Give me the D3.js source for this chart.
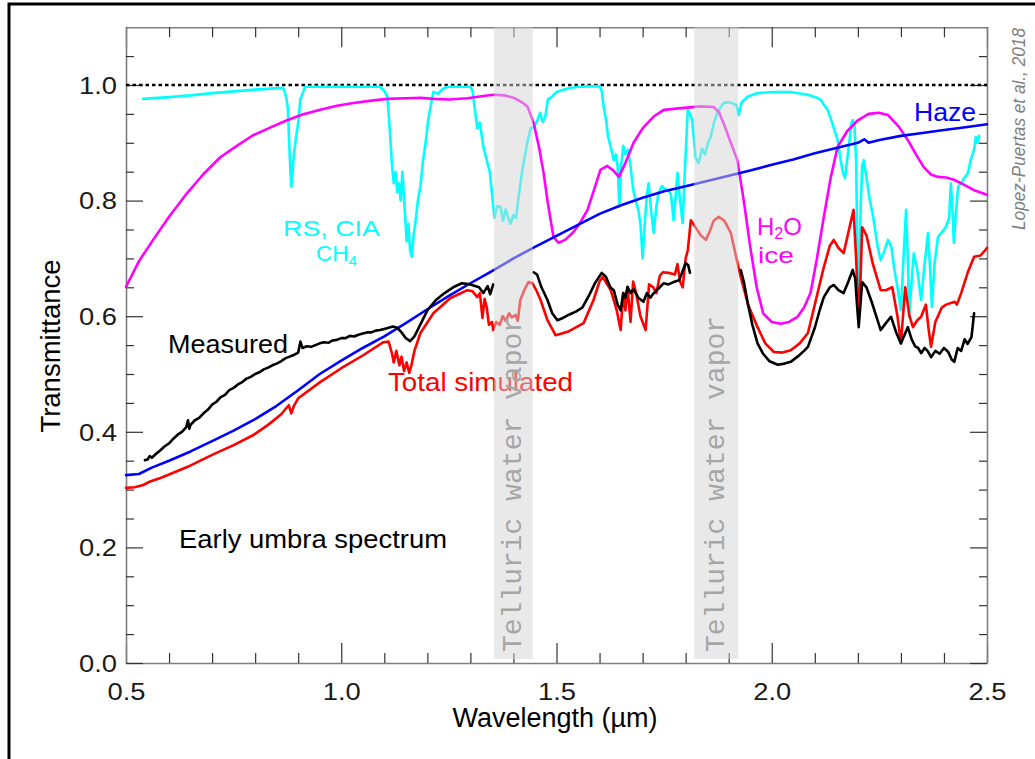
<!DOCTYPE html>
<html><head><meta charset="utf-8">
<script src="https://cdn.jsdelivr.net/npm/d3@7"></script>
<style>
html,body{margin:0;padding:0;background:#fff;}
svg{display:block;}
</style></head><body>
<svg id="chart" width="1035" height="759" font-family="Liberation Sans, Arial, sans-serif"></svg>
<script>
// ---------- data (wavelength in µm, transmittance) ----------
const xTickLabels = [0.5, 1.0, 1.5, 2.0, 2.5];
const yTickLabels = [0.0, 0.2, 0.4, 0.6, 0.8, 1.0];
const referenceLevel = 1.0;
const tellBands = [[1.355, 1.445], [1.82, 1.922]];

const haze = [[0.50,0.325],[0.53,0.327],[0.56,0.338],[0.60,0.350],[0.65,0.366],[0.70,0.384],[0.75,0.402],
[0.80,0.422],[0.85,0.445],[0.90,0.472],[0.95,0.500],[1.00,0.523],[1.05,0.545],[1.10,0.565],[1.15,0.588],
[1.20,0.612],[1.25,0.635],[1.30,0.657],[1.35,0.678],[1.40,0.700],[1.45,0.720],[1.50,0.739],[1.55,0.758],
[1.60,0.777],[1.65,0.792],[1.70,0.805],[1.75,0.816],[1.80,0.825],[1.85,0.834],[1.90,0.843],[1.95,0.852],
[2.00,0.862],[2.05,0.871],[2.10,0.882],[2.15,0.891],[2.20,0.900],[2.215,0.906],[2.225,0.900],[2.25,0.905],
[2.30,0.912],[2.35,0.917],[2.40,0.922],[2.45,0.927],[2.50,0.932]];

const h2oIce = [[0.50,0.651],[0.53,0.695],[0.563,0.732],[0.60,0.772],[0.642,0.813],[0.68,0.846],[0.719,0.875],
[0.76,0.896],[0.795,0.913],[0.84,0.928],[0.874,0.939],[0.91,0.949],[0.951,0.957],[0.99,0.964],[1.028,0.969],
[1.07,0.973],[1.107,0.976],[1.15,0.977],[1.184,0.978],[1.214,0.976],[1.25,0.975],[1.293,0.977],[1.33,0.981],
[1.353,0.983],[1.38,0.982],[1.40,0.978],[1.42,0.970],[1.433,0.962],[1.447,0.934],[1.46,0.890],[1.47,0.848],
[1.48,0.795],[1.493,0.737],[1.505,0.727],[1.52,0.732],[1.54,0.746],[1.556,0.763],[1.572,0.784],[1.59,0.825],
[1.602,0.853],[1.618,0.860],[1.632,0.852],[1.645,0.841],[1.66,0.865],[1.679,0.900],[1.70,0.925],[1.725,0.945],
[1.749,0.957],[1.79,0.960],[1.835,0.963],[1.865,0.962],[1.878,0.952],[1.888,0.934],[1.905,0.900],[1.92,0.870],
[1.935,0.800],[1.95,0.720],[1.965,0.650],[1.98,0.605],[2.00,0.590],[2.021,0.587],[2.04,0.590],[2.06,0.599],
[2.075,0.615],[2.09,0.640],[2.105,0.700],[2.121,0.772],[2.137,0.840],[2.153,0.893],[2.175,0.920],[2.20,0.939],
[2.225,0.950],[2.249,0.952],[2.27,0.948],[2.295,0.928],[2.316,0.905],[2.335,0.880],[2.353,0.858],[2.37,0.845],
[2.386,0.841],[2.405,0.840],[2.423,0.836],[2.445,0.828],[2.47,0.818],[2.50,0.810]];

const rsCiaCh4 = [[0.54,0.976],[0.60,0.979],[0.65,0.982],[0.70,0.986],[0.75,0.989],[0.80,0.992],[0.865,0.995],
[0.870,0.985],[0.873,0.975],[0.876,0.960],[0.879,0.900],[0.882,0.850],[0.884,0.824],[0.887,0.850],[0.890,0.880],
[0.895,0.910],[0.900,0.935],[0.905,0.975],[0.910,0.985],[0.916,0.997],[1.09,0.997],[1.100,0.990],[1.107,0.980],
[1.112,0.930],[1.118,0.860],[1.122,0.830],[1.126,0.850],[1.130,0.815],[1.134,0.830],[1.138,0.800],[1.142,0.850],
[1.147,0.790],[1.152,0.730],[1.156,0.760],[1.160,0.712],[1.164,0.703],[1.168,0.740],[1.172,0.760],[1.178,0.800],
[1.184,0.825],[1.190,0.870],[1.196,0.900],[1.202,0.940],[1.208,0.965],[1.214,0.988],[1.225,0.985],[1.235,0.993],
[1.246,0.997],[1.300,0.997],[1.305,0.990],[1.310,0.960],[1.316,0.925],[1.322,0.935],[1.330,0.893],[1.338,0.870],
[1.345,0.850],[1.350,0.813],[1.356,0.770],[1.362,0.790],[1.370,0.789],[1.376,0.765],[1.382,0.785],[1.388,0.770],
[1.393,0.760],[1.400,0.775],[1.406,0.770],[1.412,0.806],[1.420,0.850],[1.432,0.900],[1.440,0.925],[1.447,0.927],
[1.455,0.938],[1.462,0.952],[1.468,0.936],[1.474,0.945],[1.480,0.975],[1.490,0.980],[1.500,0.988],[1.526,0.994],
[1.550,0.997],[1.600,0.998],[1.605,0.990],[1.610,0.960],[1.615,0.940],[1.620,0.910],[1.626,0.893],[1.633,0.870],
[1.638,0.880],[1.642,0.860],[1.646,0.790],[1.650,0.860],[1.655,0.895],[1.660,0.880],[1.666,0.888],[1.672,0.860],
[1.678,0.820],[1.684,0.800],[1.690,0.784],[1.695,0.760],[1.700,0.700],[1.705,0.760],[1.710,0.810],[1.714,0.830],
[1.720,0.780],[1.726,0.744],[1.732,0.790],[1.737,0.813],[1.745,0.825],[1.752,0.820],[1.760,0.818],[1.766,0.810],
[1.772,0.766],[1.776,0.800],[1.781,0.848],[1.787,0.800],[1.793,0.761],[1.798,0.850],[1.805,0.957],[1.810,0.950],
[1.815,0.940],[1.823,0.875],[1.830,0.865],[1.838,0.890],[1.845,0.880],[1.852,0.900],[1.858,0.910],[1.866,0.935],
[1.874,0.952],[1.880,0.960],[1.888,0.969],[1.900,0.970],[1.910,0.968],[1.918,0.965],[1.923,0.948],[1.930,0.970],
[1.945,0.980],[1.967,0.986],[2.005,0.988],[2.044,0.988],[2.084,0.983],[2.105,0.978],[2.114,0.974],[2.122,0.965],
[2.130,0.957],[2.140,0.935],[2.153,0.905],[2.160,0.870],[2.165,0.850],[2.170,0.839],[2.175,0.870],[2.180,0.900],
[2.185,0.935],[2.188,0.939],[2.192,0.930],[2.196,0.870],[2.199,0.700],[2.201,0.628],[2.204,0.700],[2.207,0.800],
[2.210,0.860],[2.214,0.870],[2.220,0.840],[2.228,0.800],[2.236,0.770],[2.246,0.720],[2.253,0.697],[2.260,0.710],
[2.270,0.732],[2.278,0.720],[2.285,0.680],[2.292,0.650],[2.300,0.611],[2.306,0.700],[2.312,0.784],[2.316,0.700],
[2.319,0.599],[2.325,0.660],[2.330,0.709],[2.338,0.680],[2.347,0.628],[2.355,0.690],[2.363,0.744],[2.368,0.680],
[2.372,0.616],[2.378,0.690],[2.386,0.737],[2.395,0.745],[2.405,0.755],[2.412,0.770],[2.416,0.830],[2.420,0.780],
[2.423,0.727],[2.428,0.780],[2.433,0.824],[2.440,0.830],[2.448,0.840],[2.456,0.848],[2.462,0.870],[2.470,0.888],
[2.474,0.910],[2.478,0.900],[2.482,0.912]];

const totalSimulated = [[0.50,0.303],[0.52,0.304],[0.54,0.308],[0.556,0.314],[0.58,0.320],[0.60,0.326],[0.642,0.339],
[0.70,0.360],[0.75,0.377],[0.795,0.394],[0.83,0.412],[0.86,0.430],[0.878,0.446],[0.884,0.432],[0.890,0.445],
[0.90,0.458],[0.951,0.486],[1.00,0.510],[1.05,0.532],[1.098,0.555],[1.11,0.556],[1.118,0.535],[1.122,0.520],
[1.128,0.540],[1.135,0.515],[1.140,0.530],[1.146,0.505],[1.152,0.520],[1.158,0.502],[1.163,0.515],[1.170,0.540],
[1.184,0.571],[1.214,0.605],[1.253,0.631],[1.293,0.645],[1.305,0.643],[1.316,0.633],[1.322,0.640],[1.328,0.597],
[1.333,0.630],[1.338,0.615],[1.343,0.585],[1.350,0.590],[1.353,0.576],[1.36,0.590],[1.368,0.585],[1.375,0.600],
[1.382,0.592],[1.39,0.605],[1.396,0.598],[1.405,0.602],[1.41,0.592],[1.416,0.628],[1.425,0.645],[1.435,0.659],
[1.444,0.657],[1.453,0.645],[1.463,0.628],[1.479,0.593],[1.498,0.567],[1.526,0.573],[1.563,0.588],[1.586,0.628],
[1.600,0.660],[1.607,0.668],[1.626,0.645],[1.640,0.610],[1.649,0.576],[1.655,0.640],[1.660,0.610],[1.665,0.650],
[1.672,0.590],[1.678,0.660],[1.685,0.640],[1.695,0.600],[1.707,0.576],[1.715,0.655],[1.725,0.650],[1.732,0.640],
[1.740,0.670],[1.747,0.676],[1.760,0.675],[1.775,0.672],[1.781,0.690],[1.787,0.660],[1.793,0.650],[1.800,0.700],
[1.805,0.714],[1.812,0.766],[1.822,0.755],[1.835,0.740],[1.847,0.732],[1.855,0.745],[1.865,0.765],[1.877,0.772],
[1.890,0.765],[1.905,0.744],[1.918,0.700],[1.928,0.668],[1.945,0.620],[1.967,0.581],[1.985,0.553],[2.005,0.538],
[2.025,0.537],[2.044,0.541],[2.065,0.553],[2.084,0.571],[2.10,0.620],[2.121,0.685],[2.135,0.722],[2.144,0.732],
[2.155,0.718],[2.167,0.709],[2.178,0.745],[2.19,0.784],[2.196,0.700],[2.200,0.628],[2.203,0.605],[2.207,0.680],
[2.21,0.754],[2.22,0.740],[2.235,0.690],[2.253,0.645],[2.265,0.645],[2.28,0.650],[2.292,0.600],[2.300,0.553],
[2.31,0.650],[2.32,0.600],[2.328,0.581],[2.338,0.593],[2.347,0.599],[2.358,0.620],[2.364,0.580],[2.37,0.547],
[2.38,0.590],[2.395,0.615],[2.405,0.620],[2.425,0.625],[2.43,0.620],[2.44,0.640],[2.455,0.675],[2.47,0.703],
[2.485,0.705],[2.50,0.718]];

// measured spectrum, three pieces (masked in the telluric bands)
const measuredA = [[0.544,0.351],[0.550,0.352],[0.555,0.358],[0.560,0.355],[0.570,0.362],[0.580,0.368],[0.590,0.375],
[0.600,0.380],[0.610,0.388],[0.620,0.395],[0.630,0.400],[0.640,0.408],[0.644,0.420],[0.647,0.405],[0.650,0.412],
[0.660,0.420],[0.670,0.424],[0.680,0.432],[0.690,0.438],[0.700,0.447],[0.710,0.452],[0.720,0.460],[0.730,0.464],
[0.740,0.472],[0.750,0.476],[0.760,0.482],[0.770,0.486],[0.780,0.492],[0.790,0.495],[0.800,0.500],[0.810,0.503],
[0.820,0.508],[0.830,0.511],[0.840,0.515],[0.850,0.518],[0.860,0.522],[0.870,0.527],[0.880,0.530],[0.890,0.533],
[0.900,0.537],[0.905,0.556],[0.910,0.545],[0.920,0.548],[0.930,0.547],[0.940,0.550],[0.950,0.553],[0.960,0.555],
[0.970,0.554],[0.980,0.558],[0.990,0.559],[1.000,0.562],[1.010,0.562],[1.020,0.566],[1.030,0.565],[1.040,0.568],
[1.050,0.570],[1.060,0.572],[1.070,0.572],[1.080,0.575],[1.090,0.576],[1.100,0.578],[1.110,0.580],[1.120,0.582],
[1.130,0.580],[1.140,0.572],[1.150,0.562],[1.160,0.557],[1.170,0.565],[1.180,0.580],[1.190,0.595],[1.200,0.610],
[1.220,0.628],[1.240,0.640],[1.260,0.650],[1.280,0.657],[1.300,0.655],[1.320,0.650],[1.330,0.640],[1.340,0.652],
[1.346,0.638],[1.353,0.655]];
const measuredB = [[1.447,0.676],[1.455,0.672],[1.465,0.650],[1.479,0.628],[1.490,0.605],[1.502,0.593],[1.515,0.597],
[1.530,0.603],[1.545,0.608],[1.560,0.615],[1.575,0.635],[1.590,0.658],[1.605,0.675],[1.615,0.668],[1.625,0.650],
[1.633,0.645],[1.642,0.620],[1.649,0.610],[1.655,0.640],[1.660,0.632],[1.665,0.651],[1.672,0.640],[1.679,0.647],
[1.690,0.632],[1.702,0.625],[1.710,0.640],[1.718,0.632],[1.726,0.640],[1.737,0.648],[1.749,0.657],[1.760,0.655],
[1.772,0.659],[1.785,0.662],[1.795,0.682],[1.800,0.692],[1.806,0.688],[1.810,0.675]];
const measuredC = [[1.928,0.680],[1.935,0.660],[1.945,0.620],[1.955,0.585],[1.967,0.553],[1.980,0.535],[1.995,0.522],
[2.014,0.516],[2.030,0.518],[2.044,0.521],[2.060,0.530],[2.075,0.540],[2.084,0.547],[2.100,0.580],[2.112,0.612],
[2.121,0.633],[2.135,0.650],[2.144,0.654],[2.155,0.645],[2.167,0.640],[2.178,0.660],[2.188,0.680],[2.194,0.665],
[2.198,0.620],[2.202,0.581],[2.206,0.620],[2.210,0.659],[2.220,0.650],[2.232,0.625],[2.245,0.595],[2.253,0.576],
[2.262,0.585],[2.277,0.599],[2.290,0.570],[2.300,0.553],[2.316,0.581],[2.325,0.560],[2.333,0.548],[2.340,0.545],
[2.347,0.536],[2.355,0.545],[2.362,0.540],[2.370,0.529],[2.380,0.540],[2.390,0.535],[2.400,0.545],[2.410,0.538],
[2.418,0.525],[2.424,0.521],[2.432,0.545],[2.440,0.540],[2.448,0.560],[2.455,0.552],[2.464,0.564],[2.470,0.605]];

// ---------- drawing ----------
const SANS = '"Liberation Sans", Arial, sans-serif';
const svg = d3.select("#chart");
const W = 1035, H = 759;
const x = d3.scaleLinear().domain([0.5, 2.5]).range([126, 987]);
const y = d3.scaleLinear().domain([0, 1.1]).range([663, 27.2]);

// outer frame (thick black, top & left)
svg.append("path").attr("d", `M9,${H+5} L9,4 L${W+5},4`).attr("fill","none").attr("stroke","#000").attr("stroke-width",3);

const xMinor = d3.range(5, 26).map(i => i / 10).filter(v => !xTickLabels.some(m => Math.abs(m - v) < 1e-6));
const yMinor = d3.range(0, 22).map(i => +(i * 0.05).toFixed(2)).filter(v => !yTickLabels.some(m => Math.abs(m - v) < 1e-6) && v > 0);

function styleAxis(g) {
  g.select(".domain").attr("stroke", "#7f7f7f").attr("stroke-width", 1.6);
  g.selectAll(".tick line").attr("stroke", "#333").attr("stroke-width", 1.2);
}
const axisG = svg.append("g");
// bottom
axisG.append("g").attr("transform","translate(0,663)")
  .call(d3.axisBottom(x).tickValues(xMinor).tickSizeInner(-10).tickSizeOuter(0).tickFormat(""))
  .call(styleAxis);
const xb = axisG.append("g").attr("transform","translate(0,663)")
  .call(d3.axisBottom(x).tickValues(xTickLabels).tickSizeInner(-20).tickSizeOuter(0).tickPadding(21).tickFormat(d3.format(".1f")))
  .call(styleAxis);
xb.select(".domain").remove();
// top
axisG.append("g").attr("transform","translate(0,27.2)")
  .call(d3.axisTop(x).tickValues(xMinor).tickSizeInner(-10).tickSizeOuter(0).tickFormat(""))
  .call(styleAxis);
const xt = axisG.append("g").attr("transform","translate(0,27.2)")
  .call(d3.axisTop(x).tickValues(xTickLabels).tickSizeInner(-20).tickSizeOuter(0).tickFormat(""))
  .call(styleAxis);
xt.select(".domain").remove();
// left
axisG.append("g").attr("transform","translate(126,0)")
  .call(d3.axisLeft(y).tickValues(yMinor).tickSizeInner(-8).tickSizeOuter(0).tickFormat(""))
  .call(styleAxis);
const yl = axisG.append("g").attr("transform","translate(126,0)")
  .call(d3.axisLeft(y).tickValues(yTickLabels).tickSizeInner(-17).tickSizeOuter(0).tickPadding(9).tickFormat(d3.format(".1f")))
  .call(styleAxis);
yl.select(".domain").remove();
// right
axisG.append("g").attr("transform","translate(987,0)")
  .call(d3.axisRight(y).tickValues(yMinor).tickSizeInner(-8).tickSizeOuter(0).tickFormat(""))
  .call(styleAxis);
const yr = axisG.append("g").attr("transform","translate(987,0)")
  .call(d3.axisRight(y).tickValues(yTickLabels).tickSizeInner(-17).tickSizeOuter(0).tickFormat(""))
  .call(styleAxis);
yr.select(".domain").remove();

axisG.selectAll("g").attr("font-family", SANS);
axisG.selectAll(".tick text")
  .attr("font-size", 23).attr("fill", "#1a1a1a")
  .attr("textLength", 38).attr("lengthAdjust", "spacingAndGlyphs");
yl.selectAll(".tick text").attr("dy", "0.36em");

// reference line at 1.0
svg.append("line")
  .attr("x1", x(0.5)).attr("x2", x(2.5)).attr("y1", y(referenceLevel)).attr("y2", y(referenceLevel))
  .attr("stroke", "#000").attr("stroke-width", 2.6).attr("stroke-dasharray", "3.5,3");

const line = d3.line().x(d => x(d[0])).y(d => y(d[1]));
const series = [
  {data: rsCiaCh4, color: "#00ffff"},
  {data: h2oIce, color: "#ff00ff"},
  {data: haze, color: "#0000ff"},
  {data: totalSimulated, color: "#ff0000"},
  {data: measuredA, color: "#000"},
  {data: measuredB, color: "#000"},
  {data: measuredC, color: "#000"}
];
svg.append("g").selectAll("path").data(series).join("path")
  .attr("d", s => line(s.data))
  .attr("fill", "none").attr("stroke", s => s.color)
  .attr("stroke-width", 2.6).attr("stroke-linejoin", "round").attr("stroke-linecap", "round");

// annotation labels
function label(txt, px, py, color, len, size) {
  const t = svg.append("text").attr("x", px).attr("y", py).attr("fill", color)
    .attr("font-family", SANS).attr("font-size", size || 25).text(txt);
  if (len) t.attr("textLength", len).attr("lengthAdjust", "spacingAndGlyphs");
  return t;
}
label("Measured", 168, 353, "#000", 120);
label("Total simulated", 388, 391, "#ff0000", 185);
label("Haze", 914, 121, "#0000ff", 62);
label("Early umbra spectrum", 179, 548, "#000", 268);
label("RS, CIA", 283, 236, "#00ffff", 97, 22.5);
const ch4 = svg.append("text").attr("x", 316).attr("y", 260.5).attr("fill", "#00ffff")
  .attr("font-family", SANS).attr("font-size", 22.5);
ch4.append("tspan").text("CH");
ch4.append("tspan").attr("font-size", 15.5).attr("dy", 5).text("4");
const h2o = svg.append("text").attr("x", 757).attr("y", 235).attr("fill", "#ff00ff")
  .attr("font-family", SANS).attr("font-size", 24);
h2o.append("tspan").text("H");
h2o.append("tspan").attr("font-size", 16).attr("dy", 4).text("2");
h2o.append("tspan").attr("dy", -4).text("O");
label("ice", 758, 262.5, "#ff00ff", 36, 22);

// telluric water vapour bands (translucent, on top)
svg.append("g").selectAll("rect").data(tellBands).join("rect")
  .attr("x", d => x(d[0])).attr("width", d => x(d[1]) - x(d[0]))
  .attr("y", y(1.1)).attr("height", 659 - y(1.1))
  .attr("fill", "rgb(211,211,211)").attr("opacity", 0.5);
svg.append("g").selectAll("text").data(tellBands).join("text")
  .attr("transform", d => `translate(${(x(d[0]) + x(d[1])) / 2 + 8},652) rotate(-90)`)
  .attr("font-family", '"Liberation Mono", "Courier New", monospace')
  .attr("font-size", 28).attr("fill", "#a6a6a6")
  .text("Telluric water vapor");

// axis titles
svg.append("text").attr("transform", "translate(60,346) rotate(-90)").attr("font-family", SANS)
  .attr("text-anchor", "middle").attr("font-size", 27.5).attr("fill", "#000").text("Transmittance");
svg.append("text").attr("x", 555).attr("y", 727).attr("font-family", SANS)
  .attr("text-anchor", "middle").attr("font-size", 27).attr("fill", "#000").text("Wavelength (µm)");

// credit
svg.append("text").attr("transform", "translate(1025,230) rotate(-90)").attr("font-family", SANS)
  .attr("font-size", 19).attr("font-style", "italic").attr("fill", "#808080")
  .attr("textLength", 202).attr("lengthAdjust", "spacingAndGlyphs")
  .text("Lopez-Puertas et al., 2018");
</script>
</body></html>
